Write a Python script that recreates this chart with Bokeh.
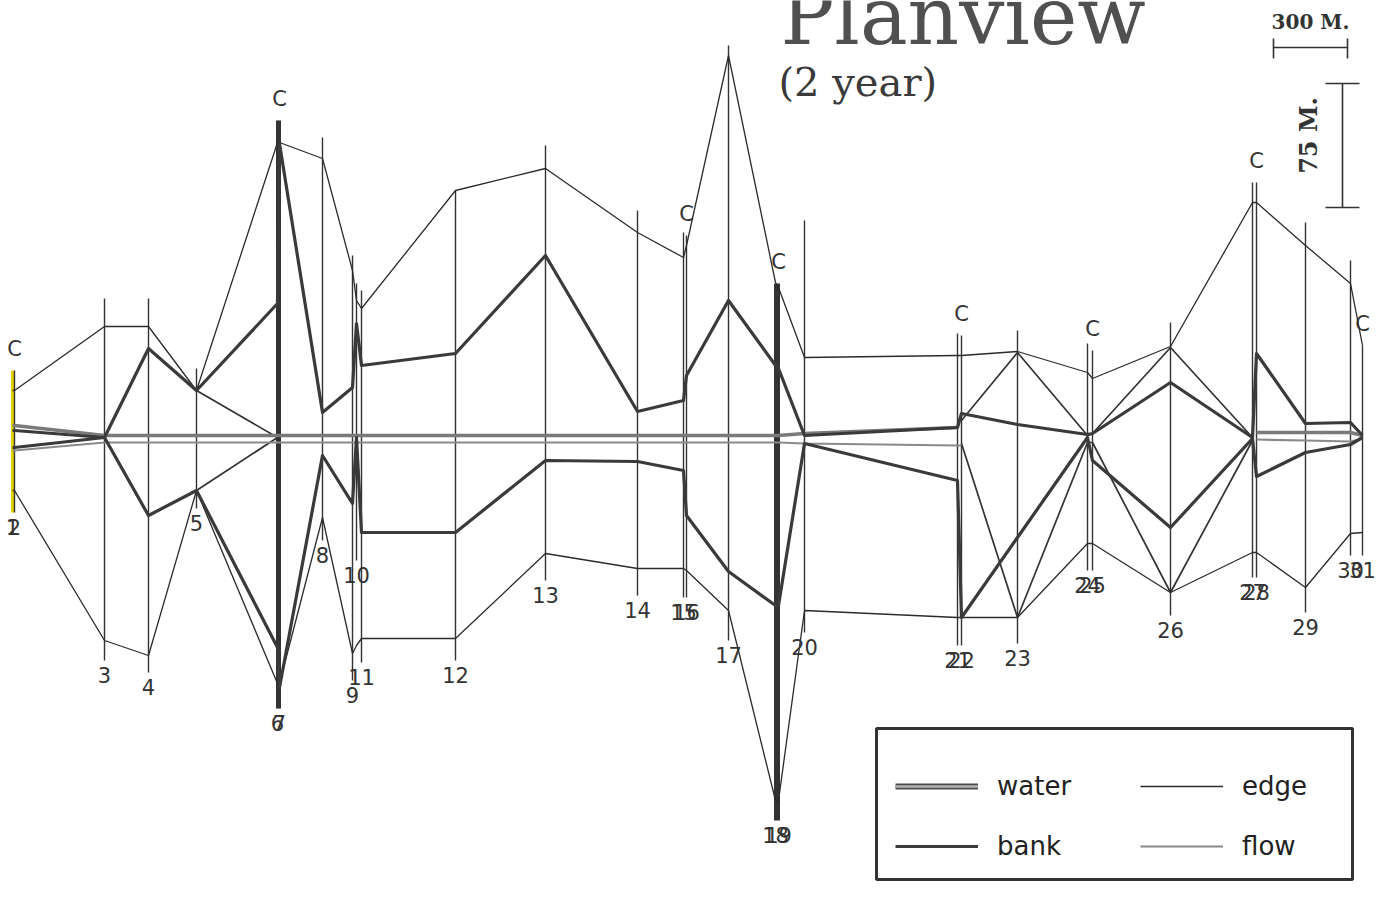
import math
from bokeh.plotting import figure
from bokeh.models import ColumnDataSource, Range1d, Legend, LegendItem, BoxAnnotation
from bokeh.core.properties import value
from bokeh.embed import file_html
from bokeh.resources import INLINE

NaN = float("nan")

# ---------------- data (chainage along reach, lateral offset from centre line) ----------------
stations = [str(i) for i in range(1, 32)]
chainage = [0, 2, 92, 136, 184, 265, 267, 310, 340, 344, 349, 443, 533, 625, 671, 674,
            716, 763, 766, 792, 945, 949, 1005, 1075, 1080, 1158, 1240, 1244, 1293, 1338, 1350]

# extent of each cross-section line
sect_top = [67, 67, 139, 139, 69, 317, 317, 300, 182, 154, 147, 247, 292, 227, 205, 202,
            392, 154, 154, 217, 104, 102, 107, 94, 87, 115, 255, 255, 215, 177, 92]
sect_bot = [-75, -75, -223, -235, -71, -271, -271, -103, -243, -123, -225, -223, -143, -158, -160, -160,
            -203, -383, -383, -195, -208, -208, -206, -133, -133, -178, -140, -140, -175, -118, -118]

edge_left = [47, 47, 111, 111, 47, 295, 295, 279, 167, 137, 129, 247, 269, 205, 180, 192,
             382, 155, 150, 80, 82, 82, 86, 65, 59, 91, 235, 235, 192, 154, 92]
edge_right = [-53, -53, -203, -218, -53, -246, -246, -80, -216, -208, -201, -201, -116, -131, -131, -133,
              -173, -363, -363, -173, -180, -180, -180, -106, -106, -155, -115, -115, -150, -96, -95]

bank_left = [7, 7, 0, 89, 47, 134, 294, 25, 50, 114, 72, 84, 182, 26, 37, 62,
             137, 72, 69, 2, 10, 24, 13, 3, 4, 55, 0, 84, 14, 15, 2]
bank_right = [-10, -10, 0, -78, -53, -210, -250, -18, -66, 0, -95, -95, -23, -24, -33, -78,
              -134, -168, -168, -6, -43, -180, -100, 0, -23, -90, -1, -39, -15, -7, 0]

channel_left = [NaN, NaN, NaN, NaN, 47, 0, NaN, NaN, NaN, NaN, NaN, NaN, NaN, NaN, NaN, NaN,
                NaN, NaN, NaN, NaN, NaN, 17, 85, 2, 4, 90, 0, NaN, NaN, NaN, NaN]
channel_right = [NaN, NaN, NaN, NaN, -53, 0, NaN, NaN, NaN, NaN, NaN, NaN, NaN, NaN, NaN, NaN,
                 NaN, NaN, NaN, NaN, NaN, -6, -180, -5, -5, -155, -3, NaN, NaN, NaN, NaN]

water = [12, 12, 2, 2, 2, 2, 2, 2, 2, 2, 2, 2, 2, 2, 2, 2,
         2, 2, 2, 4, 10, NaN, NaN, NaN, NaN, NaN, NaN, 5, 5, 5, 2]
flow = [-13, -13, -5, -5, -5, -5, -5, -5, -5, -5, -5, -5, -5, -5, -5, -5,
        -5, -5, -5, -6, -8, -8, NaN, NaN, NaN, NaN, NaN, -2, -3, -4, -1]

culverts = ["2", "7", "16", "19", "22", "25", "28", "31"]

scale_len_m = [300, 75]          # horizontal, vertical scale bars (metres)
units_per_m = [74 / 300, 124 / 75]

# ---------------- figure ----------------
W, H = 1383, 882
X0, Y1 = -12, 437
p = figure(width=W, height=H, x_range=Range1d(X0, X0 + W), y_range=Range1d(Y1 - H, Y1),
           output_backend="svg", toolbar_location=None, min_border=0,
           x_axis_location=None, y_axis_location=None)
p.outline_line_color = None
p.grid.visible = False
p.background_fill_color = "white"
p.border_fill_color = "white"

# section lines
thick = {"6", "7", "18", "19"}
sec_colors = ["#e3d200" if s == "1" else "#333333" for s in stations]
sec_widths = [3.0 if s == "1" else (3.0 if s in thick else 1.4) for s in stations]
p.segment(x0="x", y0="y0", x1="x", y1="y1", line_color="c", line_width="w",
          source=ColumnDataSource(dict(x=chainage, y0=sect_top, y1=sect_bot,
                                       c=sec_colors, w=sec_widths)))

src = ColumnDataSource(dict(x=chainage, el=edge_left, er=edge_right, bl=bank_left, br=bank_right,
                            cl=channel_left, cr=channel_right, wa=water, fl=flow))

edge_r1 = p.line("x", "el", source=src, line_color="#2b2b2b", line_width=1.3)
p.line("x", "er", source=src, line_color="#2b2b2b", line_width=1.3)
p.line("x", "cl", source=src, line_color="#333333", line_width=1.7)
p.line("x", "cr", source=src, line_color="#333333", line_width=1.7)
flow_r = p.line("x", "fl", source=src, line_color="#8a8a8a", line_width=2.2)
p.line("x", "wa", source=src, line_color="#7a7a7a", line_width=3.5)
bank_r = p.line("x", "bl", source=src, line_color="#3a3a3a", line_width=3.2, line_join="round")
p.line("x", "br", source=src, line_color="#3a3a3a", line_width=3.2, line_join="round")

# station labels
p.text(x=chainage, y=[b - 14 for b in sect_bot], text=stations, text_align="center",
       text_baseline="middle", text_font=value("DejaVu Sans"), text_font_size=value("21px"),
       text_color="#333333")

# culvert labels
c_idx = [stations.index(s) for s in culverts]
p.text(x=[chainage[i] for i in c_idx], y=[sect_top[i] + 22 for i in c_idx], text=["C"] * len(c_idx),
       text_align="center", text_baseline="middle", text_font=value("DejaVu Sans"),
       text_font_size=value("21px"), text_color="#333333")

# titles
p.text(x=[768], y=[421], text=["Planview"], text_font=value("DejaVu Serif"),
       text_font_size=value("80px"), text_color="#505050", text_baseline="alphabetic", text_align="left")
p.text(x=[766], y=[356], text=["(2 year)"], text_font=value("DejaVu Serif"),
       text_font_size=value("40px"), text_color="#3a3a3a", text_baseline="alphabetic", text_align="left")

# scale bars
hx0, hy = 1261, 390
hlen = scale_len_m[0] * units_per_m[0]
p.segment(x0=[hx0, hx0, hx0 + hlen], y0=[hy, hy + 9, hy + 9], x1=[hx0 + hlen, hx0, hx0 + hlen],
          y1=[hy, hy - 11, hy - 11], line_color="#333333", line_width=1.6)
p.text(x=[hx0 + hlen / 2], y=[hy + 26], text=[f"{scale_len_m[0]} M."], text_font=value("DejaVu Serif"),
       text_font_size=value("20px"), text_font_style="bold", text_color="#333333",
       text_align="center", text_baseline="middle")
vx, vy0 = 1330, 230
vlen = scale_len_m[1] * units_per_m[1]
p.segment(x0=[vx, vx - 17, vx - 17], y0=[vy0, vy0, vy0 + vlen], x1=[vx, vx + 17, vx + 17],
          y1=[vy0 + vlen, vy0, vy0 + vlen], line_color="#333333", line_width=1.6)
p.text(x=[vx - 34], y=[vy0 + vlen / 2 + 10], text=[f"{scale_len_m[1]} M."], text_font=value("DejaVu Serif"),
       text_font_size=value("24px"), text_font_style="bold", text_color="#333333",
       text_align="center", text_baseline="middle", angle=math.pi / 2)

# legend (water swatch drawn as a double line; its renderers sit outside the view)
w_out = p.line(x=[-900, -800], y=[0, 0], line_color="#4a4a4a", line_width=6)
w_in = p.line(x=[-900, -800], y=[0, 0], line_color="#b4b4b4", line_width=2.5)
legend = Legend(items=[LegendItem(label="water", renderers=[w_out, w_in]),
                       LegendItem(label="bank", renderers=[bank_r]),
                       LegendItem(label="edge", renderers=[edge_r1]),
                       LegendItem(label="flow", renderers=[flow_r])],
                ncols=2, location=(895, 21), padding=0, margin=0, spacing=30,
                glyph_width=83, glyph_height=30, label_height=30, label_width=113,
                label_standoff=19, label_text_font="DejaVu Sans", label_text_font_size="26px",
                label_text_color="#222222", border_line_color=None, background_fill_alpha=0)
p.add_layout(legend)
p.add_layout(BoxAnnotation(left=864, right=1340, top=-291, bottom=-442, fill_alpha=0,
                           line_color="#333333", line_alpha=1, line_width=3))

open("out.html", "w").write(file_html(p, INLINE))
